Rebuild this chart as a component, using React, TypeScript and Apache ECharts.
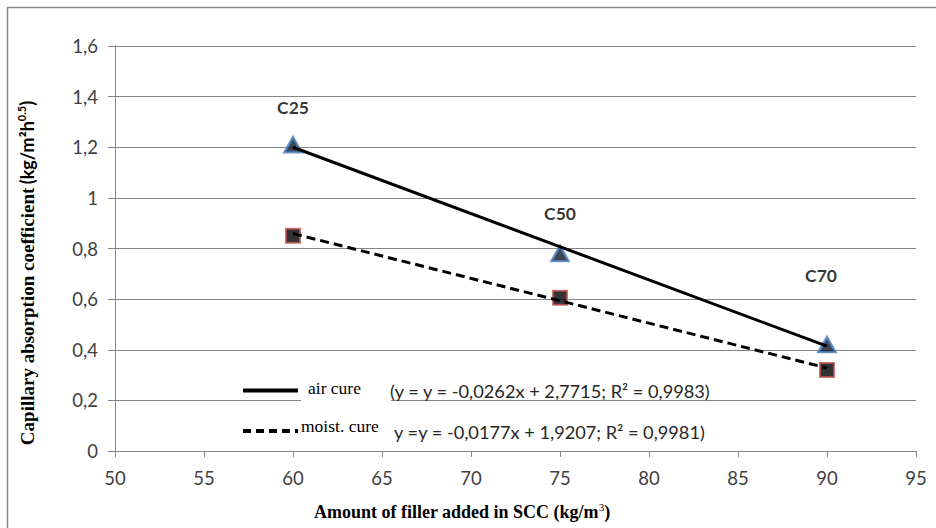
import React, { useEffect, useRef } from "react";
import * as echarts from "echarts";

const xValues = [60, 75, 90];
const airCure = [1.21, 0.78, 0.42];
const moistCure = [0.85, 0.605, 0.32];
const trendX = [60, 90];
const airTrend = [1.2, 0.414];
const moistTrend = [0.859, 0.328];
const pointLabels = ["C25", "C50", "C70"];
const legendNames = ["air cure", "moist. cure"];
const legendEquations = [
  "(y = y = -0,0262x + 2,7715; R² = 0,9983)",
  "y =y = -0,0177x + 1,9207; R² = 0,9981)",
];
const xTitle = "Amount of filler added in SCC (kg/m";
const yTitle = "Capillary absorption coefficient";

const labelLayout = [
  { distance: 20, offset: [0, 0] },
  { distance: 22, offset: [0, 0] },
  { distance: 52, offset: [-6, 0] },
];

export default function App() {
  const ref = useRef<HTMLDivElement>(null);
  useEffect(() => {
    if (!ref.current) return;
    const chart = echarts.init(ref.current, null, { renderer: "svg" });
    const axisColor = "#868686";
    const tickFont = { fontFamily: "Lato", fontSize: 18.5, color: "#404040" };
    chart.setOption({
      animation: false,
      backgroundColor: "#fff",
      grid: { left: 115, right: 20, top: 46, bottom: 77 },
      xAxis: {
        type: "value",
        min: 50,
        max: 95,
        interval: 5,
        axisLine: { show: true, lineStyle: { color: axisColor, width: 1 } },
        axisTick: { show: true, length: 6, lineStyle: { color: axisColor } },
        axisLabel: { ...tickFont, margin: 17 },
        splitLine: { show: false },
      },
      yAxis: {
        type: "value",
        min: 0,
        max: 1.6,
        interval: 0.2,
        axisLine: { show: true, lineStyle: { color: axisColor, width: 1 } },
        axisTick: { show: true, length: 7, lineStyle: { color: axisColor } },
        axisLabel: {
          ...tickFont,
          margin: 17,
          formatter: (v: number) => String(+v.toFixed(1)).replace(".", ","),
        },
        splitLine: { show: true, lineStyle: { color: axisColor, width: 1 } },
      },
      series: [
        {
          name: legendNames[0],
          type: "scatter",
          z: 2,
          symbol: "triangle",
          symbolSize: [17, 15],
          itemStyle: { color: "#10182a", borderColor: "#4a7ebb", borderWidth: 2.5 },
          data: xValues.map((x, i) => ({
            value: [x, airCure[i]],
            label: {
              show: true,
              formatter: pointLabels[i],
              position: "top",
              distance: labelLayout[i].distance,
              offset: labelLayout[i].offset,
              fontFamily: "Lato",
              fontWeight: "bold",
              fontSize: 17.5,
              color: "#000",
            },
          })),
        },
        {
          name: legendNames[1],
          type: "scatter",
          z: 2,
          symbol: "rect",
          symbolSize: 14,
          itemStyle: { color: "#000", borderColor: "#c0504d", borderWidth: 2 },
          data: xValues.map((x, i) => [x, moistCure[i]]),
        },
        {
          type: "line",
          z: 3,
          symbol: "none",
          lineStyle: { color: "#000", width: 3 },
          data: trendX.map((x, i) => [x, airTrend[i]]),
        },
        {
          type: "line",
          z: 3,
          symbol: "none",
          lineStyle: { color: "#000", width: 3, type: [9, 5] },
          data: trendX.map((x, i) => [x, moistTrend[i]]),
        },
      ],
      graphic: [
        {
          type: "rect",
          z: 1,
          shape: { x: 7.5, y: 7.5, width: 960, height: 560 },
          style: { fill: "none", stroke: "#8c8c8c", lineWidth: 1.5 },
          silent: true,
        },
        {
          type: "rect",
          z: 5,
          shape: { x: 301, y: 378, width: 90, height: 24 },
          style: { fill: "#fff" },
        },
        {
          type: "line",
          z: 5,
          shape: { x1: 243, y1: 390.5, x2: 298, y2: 390.5 },
          style: { stroke: "#000", lineWidth: 4 },
        },
        {
          type: "line",
          z: 5,
          shape: { x1: 243, y1: 431, x2: 298, y2: 431 },
          style: { stroke: "#000", lineWidth: 4, lineDash: [8, 5] },
        },
        {
          type: "text",
          z: 6,
          x: 308,
          y: 388,
          style: {
            text: legendNames[0],
            fontFamily: "Liberation Serif",
            fontSize: 17.5,
            fill: "#000",
            align: "left",
            verticalAlign: "middle",
          },
        },
        {
          type: "text",
          z: 6,
          x: 301,
          y: 426,
          style: {
            text: legendNames[1],
            fontFamily: "Liberation Serif",
            fontSize: 17.5,
            fill: "#000",
            align: "left",
            verticalAlign: "middle",
          },
        },
        {
          type: "text",
          z: 6,
          x: 390,
          y: 391,
          style: {
            text: legendEquations[0],
            fontFamily: "Lato",
            fontSize: 18.2,
            fill: "#262626",
            align: "left",
            verticalAlign: "middle",
          },
        },
        {
          type: "text",
          z: 6,
          x: 394,
          y: 432,
          style: {
            text: legendEquations[1],
            fontFamily: "Lato",
            fontSize: 18.2,
            fill: "#262626",
            align: "left",
            verticalAlign: "middle",
          },
        },
        {
          type: "text",
          z: 6,
          x: 27,
          y: 273,
          rotation: Math.PI / 2,
          style: {
            text: "{a|" + yTitle + "} {b|(kg/m²h}{s|0.5}{b|)}",
            align: "center",
            verticalAlign: "middle",
            rich: {
              a: { fontFamily: "Liberation Serif", fontWeight: "bold", fontSize: 19, fill: "#000", lineHeight: 22 },
              b: { fontFamily: "Lato", fontWeight: "bold", fontSize: 18, fill: "#000", lineHeight: 22 },
              s: { fontFamily: "Lato", fontWeight: "bold", fontSize: 11, fill: "#000", verticalAlign: "top", lineHeight: 13 },
            },
          },
        },
        {
          type: "text",
          z: 6,
          x: 462,
          y: 512,
          style: {
            text: "{a|" + xTitle + "}{s|3}{a|)}",
            align: "center",
            verticalAlign: "middle",
            rich: {
              a: { fontFamily: "Liberation Serif", fontWeight: "bold", fontSize: 18, fill: "#000", lineHeight: 22 },
              s: { fontFamily: "Liberation Serif", fontSize: 11, fill: "#000", verticalAlign: "top", lineHeight: 13 },
            },
          },
        },
      ],
    });
    return () => chart.dispose();
  }, []);
  return (
    <div
      ref={ref}
      style={{ position: "fixed", left: 0, top: 0, width: 936, height: 528, background: "#fff" }}
    />
  );
}
